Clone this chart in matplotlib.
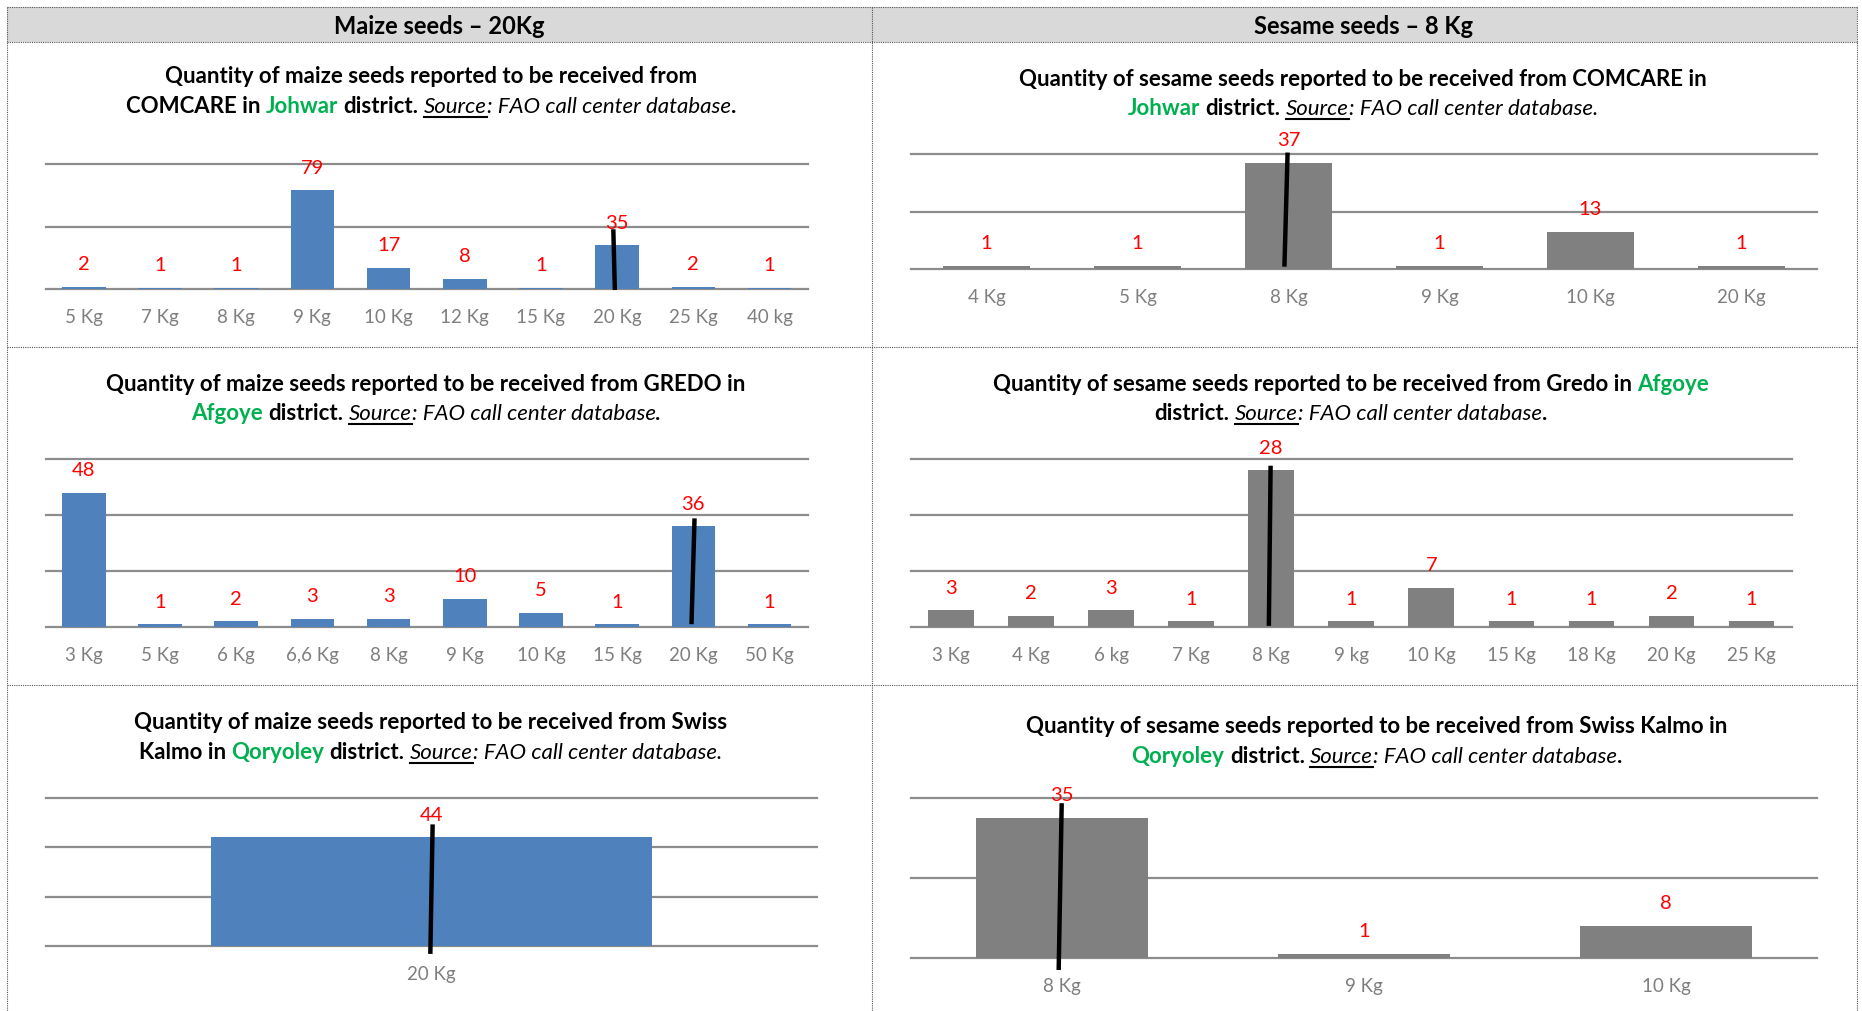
import matplotlib
matplotlib.use('Agg')
import matplotlib.pyplot as plt
from matplotlib.lines import Line2D
from matplotlib.patches import Rectangle
import numpy as np

W, H, DPI = 1862, 1011, 100
plt.rcParams['font.family'] = ['Lato', 'DejaVu Sans']

# ---------------- data ----------------
maize_johwar_cats = ["5 Kg", "7 Kg", "8 Kg", "9 Kg", "10 Kg", "12 Kg", "15 Kg", "20 Kg", "25 Kg", "40 kg"]
maize_johwar_vals = [2, 1, 1, 79, 17, 8, 1, 35, 2, 1]
maize_afgoye_cats = ["3 Kg", "5 Kg", "6 Kg", "6,6 Kg", "8 Kg", "9 Kg", "10 Kg", "15 Kg", "20 Kg", "50 Kg"]
maize_afgoye_vals = [48, 1, 2, 3, 3, 10, 5, 1, 36, 1]
maize_qoryoley_cats = ["20 Kg"]
maize_qoryoley_vals = [44]
sesame_johwar_cats = ["4 Kg", "5 Kg", "8 Kg", "9 Kg", "10 Kg", "20 Kg"]
sesame_johwar_vals = [1, 1, 37, 1, 13, 1]
sesame_afgoye_cats = ["3 Kg", "4 Kg", "6 kg", "7 Kg", "8 Kg", "9 kg", "10 Kg", "15 Kg", "18 Kg", "20 Kg", "25 Kg"]
sesame_afgoye_vals = [3, 2, 3, 1, 28, 1, 7, 1, 1, 2, 1]
sesame_qoryoley_cats = ["8 Kg", "9 Kg", "10 Kg"]
sesame_qoryoley_vals = [35, 1, 8]

header_left = "Maize seeds \u2013 20Kg"
header_right = "Sesame seeds \u2013 8 Kg"

# hand-drawn highlight strokes (category, top value, bottom value)
marker_cats = ["20 Kg", "20 Kg", "20 Kg", "8 Kg", "8 Kg", "8 Kg"]
marker_top = [47.8, 38.8, 49.3, 40.5, 28.8, 38.7]
marker_bottom = [-0.8, 1.0, -3.2, 0.8, 0.2, -3.0]
marker_dx_top = [-0.05, 0.016, 0.002, -0.006, -0.008, -0.001]
marker_dx_bottom = [-0.03, -0.024, -0.001, -0.027, -0.03, -0.011]

titles = [
    [[("Quantity of maize seeds reported to be received from", 'b')],
     [("COMCARE in ", 'b'), ("Johwar", 'g'), (" district. ", 'b'), ("Source", 'u'),
      (": FAO call center database", 'i'), (".", 'b')]],
    [[("Quantity of maize seeds reported to be received from GREDO in", 'b')],
     [("Afgoye", 'g'), (" district. ", 'b'), ("Source", 'u'),
      (": FAO call center database", 'i'), (".", 'b')]],
    [[("Quantity of maize seeds reported to be received from Swiss", 'b')],
     [("Kalmo in ", 'b'), ("Qoryoley", 'g'), (" district. ", 'b'), ("Source", 'u'),
      (": FAO call center database.", 'i')]],
    [[("Quantity of sesame seeds reported to be received from COMCARE in", 'b')],
     [("Johwar", 'g'), (" district. ", 'b'), ("Source", 'u'),
      (": FAO call center database.", 'i')]],
    [[("Quantity of sesame seeds reported to be received from Gredo in ", 'b'), ("Afgoye", 'g')],
     [("district. ", 'b'), ("Source", 'u'), (": FAO call center database", 'i'), (".", 'b')]],
    [[("Quantity of sesame seeds reported to be received from Swiss Kalmo in", 'b')],
     [("Qoryoley", 'g'), (" district. ", 'b'), ("Source", 'u'),
      (": FAO call center database", 'i'), (".", 'b')]],
]

charts = [
    (maize_johwar_cats, maize_johwar_vals, '#4F81BD', 100, 50),
    (maize_afgoye_cats, maize_afgoye_vals, '#4F81BD', 60, 20),
    (maize_qoryoley_cats, maize_qoryoley_vals, '#4F81BD', 60, 20),
    (sesame_johwar_cats, sesame_johwar_vals, '#808080', 40, 20),
    (sesame_afgoye_cats, sesame_afgoye_vals, '#808080', 30, 10),
    (sesame_qoryoley_cats, sesame_qoryoley_vals, '#808080', 40, 20),
]

# ---------------- layout (pixels) ----------------
axes_px = [  # x0, x1, y_top, y_base
    (45.7, 807.6, 164, 289),
    (45.7, 807.6, 459, 627),
    (45.7, 816.5, 798, 946),
    (911, 1817, 154, 269),
    (911, 1791.6, 459, 627),
    (911, 1817, 798, 958),
]
title_px = [  # x center, baseline line1, baseline line2
    (431, 83, 113),
    (426, 391, 420),
    (430.5, 729, 759),
    (1363, 86, 115),
    (1351, 391, 420),
    (1377, 733, 763),
]

fig = plt.figure(figsize=(W / DPI, H / DPI), dpi=DPI)
fig.patch.set_facecolor('white')
renderer = fig.canvas.get_renderer()

def fx(x):
    return x / W

def fy(y):
    return 1 - y / H

# header band and dotted table lines
fig.add_artist(Rectangle((fx(7), fy(42)), fx(1857) - fx(7), fy(7) - fy(42),
                         transform=fig.transFigure, facecolor='#D9D9D9', edgecolor='none', zorder=0))
dot = dict(color='#555555', lw=0.8, linestyle=(0, (1, 1)), transform=fig.transFigure)
for y in [7, 42, 347, 685]:
    fig.add_artist(Line2D([fx(7), fx(1857)], [fy(y), fy(y)], **dot))
for x in [7, 872, 1857]:
    fig.add_artist(Line2D([fx(x), fx(x)], [fy(7), fy(1011)], **dot))

HEAD_FS = 17
fig.text(fx(439), fy(34), header_left, ha='center', va='baseline', fontsize=HEAD_FS,
         fontweight='bold', color='black')
fig.text(fx(1363), fy(34), header_right, ha='center', va='baseline', fontsize=HEAD_FS,
         fontweight='bold', color='black')

STY = {
    'b': dict(fontweight='bold', color='black'),
    'g': dict(fontweight='bold', color='#00B050'),
    'u': dict(fontstyle='italic', color='black'),
    'i': dict(fontstyle='italic', color='black'),
}
TITLE_FS = 16

def width(txt, st, size):
    t = fig.text(0, 0, 'x' + txt + 'x', fontsize=size, **STY[st])
    w1 = t.get_window_extent(renderer).width
    t.remove()
    t = fig.text(0, 0, 'xx', fontsize=size, **STY[st])
    w2 = t.get_window_extent(renderer).width
    t.remove()
    return w1 - w2

def rich_line(runs, xc, yb, size):
    ws = [width(t, s, size) for t, s in runs]
    cur = xc - sum(ws) / 2
    for (t, s), w in zip(runs, ws):
        stripped = t.strip()
        lead = w - width(t.lstrip(), s, size)
        x0 = cur + lead
        fig.text(fx(x0), fy(yb), stripped, fontsize=size, ha='left', va='baseline', **STY[s])
        if s == 'u':
            sw = width(stripped, s, size)
            fig.add_artist(Line2D([fx(x0), fx(x0 + sw)], [fy(yb + 3.5)] * 2,
                                  transform=fig.transFigure, color='black', lw=1.5))
        cur += w

for (xc, b1, b2), lines in zip(title_px, titles):
    rich_line(lines[0], xc, b1, TITLE_FS)
    rich_line(lines[1], xc, b2, TITLE_FS)

for k, ((cats, vals, col, ymax, step), (x0, x1, yt, yb)) in enumerate(zip(charts, axes_px)):
    ax = fig.add_axes([fx(x0), fy(yb), fx(x1) - fx(x0), fy(yt) - fy(yb)])
    n = len(cats)
    xs = np.arange(n)
    ax.bar(xs, vals, width=0.572, color=col, zorder=2)
    ax.set_xlim(-0.5, n - 0.5)
    ax.set_ylim(0, ymax)
    ax.set_yticks(np.arange(0, ymax + step / 2, step))
    ax.yaxis.grid(True, color='#8C8C8C', lw=1.6)
    for gl in ax.get_ygridlines():
        gl.set_clip_on(False)
    ax.set_axisbelow(True)
    for sp in ax.spines.values():
        sp.set_visible(False)
    ax.tick_params(axis='y', left=False, labelleft=False)
    ax.set_xticks(xs)
    ax.set_xticklabels(cats)
    ax.tick_params(axis='x', length=0, pad=14.5, labelsize=13.5, labelcolor='#7F7F7F')
    for x, v in zip(xs, vals):
        ax.annotate(str(v), (x, v), xytext=(0, 12), textcoords='offset points',
                    ha='center', va='baseline', color='#FF0000', fontsize=14.5,
                    annotation_clip=False)
    i = cats.index(marker_cats[k])
    ax.plot([i + marker_dx_top[k], i + marker_dx_bottom[k]], [marker_top[k], marker_bottom[k]],
            color='black', lw=3.2, solid_capstyle='butt', zorder=5, clip_on=False)

fig.savefig('out.png', dpi=DPI, facecolor='white')
